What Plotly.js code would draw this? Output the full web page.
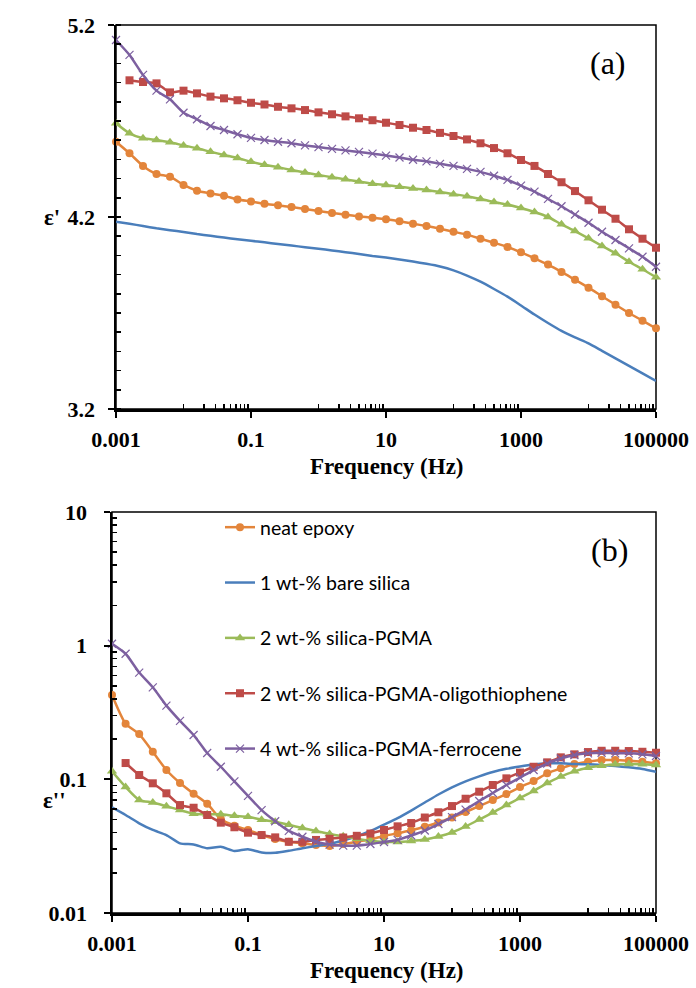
<!DOCTYPE html>
<html>
<head>
<meta charset="utf-8">
<script src="https://cdn.plot.ly/plotly-3.0.1.min.js"></script>
<style>
html,body{margin:0;padding:0;background:#fff;}
#chart{width:696px;height:988px;}
</style>
</head>
<body>
<div id="chart"></div>
<script>
// Frequency (Hz)
const freq = [0.001,0.001585,0.002512,0.003981,0.00631,0.01,0.01585,0.02512,0.03981,0.0631,
  0.1,0.1585,0.2512,0.3981,0.631,1,1.585,2.512,3.981,6.31,
  10,15.85,25.12,39.81,63.1,100,158.5,251.2,398.1,631,
  1000,1585,2512,3981,6310,10000,15850,25120,39810,63100,100000];

const seriesNames = ["neat epoxy","1 wt-% bare silica","2 wt-% silica-PGMA",
  "2 wt-% silica-PGMA-oligothiophene","4 wt-% silica-PGMA-ferrocene"];

// (a) real permittivity ε'
const epsRealNeat = [4.592,4.532,4.466,4.424,4.410,4.367,4.337,4.323,4.311,4.291,
  4.281,4.269,4.261,4.252,4.242,4.231,4.221,4.212,4.203,4.196,
  4.188,4.178,4.165,4.153,4.139,4.123,4.108,4.087,4.066,4.044,
  4.016,3.985,3.952,3.914,3.873,3.832,3.787,3.743,3.700,3.660,3.620];
const epsRealBare = [4.176,4.165,4.153,4.141,4.131,4.122,4.111,4.102,4.093,4.084,
  4.076,4.068,4.059,4.051,4.043,4.035,4.026,4.017,4.007,3.997,
  3.989,3.979,3.968,3.956,3.942,3.922,3.895,3.863,3.825,3.785,
  3.739,3.692,3.648,3.607,3.573,3.542,3.503,3.464,3.425,3.386,3.346];
const epsRealPGMA = [4.688,4.636,4.610,4.601,4.589,4.573,4.558,4.540,4.523,4.507,
  4.488,4.472,4.459,4.445,4.432,4.419,4.407,4.396,4.385,4.373,
  4.367,4.358,4.349,4.341,4.330,4.319,4.308,4.294,4.278,4.265,
  4.247,4.226,4.200,4.162,4.127,4.089,4.049,4.011,3.967,3.928,3.886];
const epsRealOligo = [null,4.912,4.903,4.896,4.849,4.858,4.844,4.827,4.818,4.808,
  4.795,4.786,4.774,4.766,4.757,4.745,4.735,4.724,4.714,4.704,
  4.691,4.679,4.665,4.653,4.638,4.622,4.604,4.584,4.559,4.532,
  4.497,4.466,4.424,4.381,4.335,4.287,4.238,4.191,4.136,4.087,4.040];
const epsRealFerro = [5.122,5.044,4.940,4.858,4.813,4.743,4.709,4.674,4.653,4.631,
  4.612,4.601,4.592,4.584,4.573,4.564,4.555,4.547,4.539,4.530,
  4.520,4.510,4.498,4.490,4.477,4.466,4.451,4.435,4.415,4.393,
  4.363,4.332,4.294,4.256,4.213,4.170,4.123,4.080,4.037,3.993,3.941];

// (b) dielectric loss ε''
const epsLossNeat = [0.427,0.2605,0.2182,0.1608,0.1174,0.0938,0.0780,0.0657,0.0505,0.0450,
  0.0418,0.0383,0.0358,0.0341,0.0332,0.0323,0.0317,0.0328,0.0341,0.0356,
  0.0377,0.0395,0.0416,0.0442,0.0475,0.0518,0.0569,0.0631,0.0700,0.0776,
  0.0876,0.0971,0.1109,0.1208,0.1301,0.1354,0.1395,0.1395,0.1378,0.1354,0.1317];
const epsLossBare = [0.0617,0.0541,0.0469,0.0418,0.0383,0.0332,0.0326,0.0305,0.0313,0.0291,
  0.0300,0.0284,0.0282,0.0292,0.0305,0.0317,0.0329,0.0349,0.0375,0.0411,
  0.0459,0.0513,0.0584,0.0671,0.0770,0.0871,0.0966,0.1053,0.1134,0.1198,
  0.1247,0.1290,0.1317,0.1317,0.1301,0.1295,0.1279,0.1258,0.1230,0.1194,0.1140];
const epsLossPGMA = [0.1147,0.0876,0.0700,0.0671,0.0629,0.0589,0.0553,0.0547,0.0547,0.0533,
  0.0525,0.0499,0.0482,0.0457,0.0432,0.0411,0.0390,0.0375,0.0359,0.0347,
  0.0340,0.0340,0.0346,0.0355,0.0373,0.0400,0.0444,0.0500,0.0564,0.0642,
  0.0725,0.0818,0.0938,0.1049,0.1147,0.1221,0.1264,0.1295,0.1301,0.1295,0.1279];
const epsLossOligo = [null,0.1324,0.1077,0.0934,0.0786,0.0642,0.0613,0.0541,0.0474,0.0438,
  0.0399,0.0383,0.0368,0.0341,0.0341,0.0352,0.0359,0.0367,0.0378,0.0393,
  0.0418,0.0445,0.0471,0.0518,0.0567,0.0631,0.0716,0.0808,0.0907,0.1017,
  0.1124,0.1242,0.1340,0.1461,0.1538,0.1600,0.1636,0.1636,0.1628,0.1608,0.1581];
const epsLossFerro = [1.033,0.870,0.629,0.488,0.356,0.274,0.2145,0.1573,0.1242,0.0966,
  0.0752,0.0589,0.0486,0.0411,0.0372,0.0341,0.0325,0.0319,0.0319,0.0328,
  0.0340,0.0352,0.0380,0.0414,0.0463,0.0522,0.0594,0.0688,0.0790,0.0907,
  0.1031,0.1174,0.1313,0.1431,0.1520,0.1565,0.1581,0.1565,0.1565,0.1538,0.1494];

const xTickVals = [0.001,0.1,10,1000,100000];
const xTickText = ["0.001","0.1","10","1000","100000"];
const yTopTickVals = [3.2,4.2,5.2];
const yTopTickText = ["3.2","4.2","5.2"];
const yBotTickVals = [0.01,0.1,1,10];
const yBotTickText = ["0.01","0.1","1","10"];

// styles
const colors = ["#E3853B","#4A7EBB","#9BBB59","#BE4B48","#7D60A0"];
const styles = [
  {mode:"lines+markers", marker:{symbol:"circle", size:8}},
  {mode:"lines"},
  {mode:"lines+markers", marker:{symbol:"triangle-up", size:9}},
  {mode:"lines+markers", marker:{symbol:"square", size:8}},
  {mode:"lines+markers", marker:{symbol:"x-thin", size:8}}
];

const topData = [epsRealNeat, epsRealBare, epsRealPGMA, epsRealOligo, epsRealFerro];
const botData = [epsLossNeat, epsLossBare, epsLossPGMA, epsLossOligo, epsLossFerro];

function mk(i, y, xa, ya, showleg){
  const s = styles[i];
  const t = {
    x: freq, y: y, xaxis: xa, yaxis: ya, type: "scatter", mode: s.mode,
    name: seriesNames[i], showlegend: showleg, legendgroup: "g"+i,
    line: {color: colors[i], width: 2.5, shape: "spline", smoothing: 0.6},
    cliponaxis: false, connectgaps: false
  };
  if (s.marker) {
    t.marker = {symbol: s.marker.symbol, size: s.marker.size, color: colors[i],
      line: {color: colors[i], width: s.marker.symbol === "x-thin" ? 1.2 : 0}};
  }
  return t;
}

const traces = [];
for (let i = 0; i < 5; i++) traces.push(mk(i, topData[i], "x", "y", false));
for (let i = 0; i < 5; i++) traces.push(mk(i, botData[i], "x2", "y2", true));

// minor tick positions
const minorX = [];
[-2,0,2,4].forEach(d => { for (let m = 1; m <= 9; m++) minorX.push(+(m*Math.pow(10,d)).toPrecision(3)); });
const minorYLog = [];
[-2,-1,0].forEach(d => { for (let m = 2; m <= 9; m++) minorYLog.push(+(m*Math.pow(10,d)).toPrecision(3)); });

const serif = "Liberation Serif, Times New Roman, serif";
const tickFont = {family: serif, size: 22, color: "#000", weight: "bold"};

function xAxis(dom, anchor){
  return {
    type: "log", range: [-3, 5], domain: dom, anchor: anchor,
    tickmode: "array", tickvals: xTickVals, ticktext: xTickText,
    ticks: "outside", ticklen: 6, tickwidth: 2, tickcolor: "#000",
    showline: true, linewidth: 2.5, linecolor: "#000",
    showgrid: false, zeroline: false, tickfont: tickFont, ticklabelstandoff: 3,
    minor: {tickmode: "array", tickvals: minorX, ticks: "inside", ticklen: 5, tickwidth: 1.5, tickcolor: "#000", showgrid: false},
    fixedrange: true
  };
}

const layout = {
  width: 696, height: 988,
  margin: {l:0, r:0, t:0, b:0},
  paper_bgcolor: "#fff", plot_bgcolor: "#fff",
  showlegend: true,
  xaxis: xAxis([116/696, 656/696], "y"),
  yaxis: {
    range: [3.2, 5.2], domain: [1-409/988, 1-25/988], anchor: "x",
    tickmode: "array", tickvals: yTopTickVals, ticktext: yTopTickText,
    ticks: "outside", ticklen: 6, tickwidth: 2, tickcolor: "#000",
    showline: true, linewidth: 2.5, linecolor: "#000",
    showgrid: false, zeroline: false, tickfont: tickFont, ticklabelstandoff: 8,
    minor: {dtick: 0.1, tick0: 3.2, ticks: "inside", ticklen: 5, tickwidth: 1.5, tickcolor: "#000", showgrid: false},
    fixedrange: true
  },
  xaxis2: xAxis([112/696, 656/696], "y2"),
  yaxis2: {
    type: "log", range: [-2, 1], domain: [1-913/988, 1-512/988], anchor: "x2",
    tickmode: "array", tickvals: yBotTickVals, ticktext: yBotTickText,
    ticks: "outside", ticklen: 6, tickwidth: 2, tickcolor: "#000",
    showline: true, linewidth: 2.5, linecolor: "#000",
    showgrid: false, zeroline: false, tickfont: tickFont, ticklabelstandoff: 12,
    minor: {tickmode: "array", tickvals: minorYLog, ticks: "inside", ticklen: 5, tickwidth: 1.5, tickcolor: "#000", showgrid: false},
    fixedrange: true
  },
  legend: {
    x: 220/696, y: 1-508/988, xanchor: "left", yanchor: "top",
    bgcolor: "rgba(0,0,0,0)", borderwidth: 0,
    font: {family: "Lato, Open Sans, sans-serif", size: 19.5, color: "#000"},
    traceorder: "grouped", tracegroupgap: 27, itemwidth: 30
  },
  shapes: [
    {type:"rect", xref:"x domain", yref:"y domain", x0:0, x1:1, y0:0, y1:1, line:{color:"#000", width:1.5}, layer:"below"},
    {type:"rect", xref:"x2 domain", yref:"y2 domain", x0:0, x1:1, y0:0, y1:1, line:{color:"#000", width:1.5}, layer:"below"}
  ],
  annotations: [
    {text:"(a)", xref:"paper", yref:"paper", x:608/696, y:1-63/988, showarrow:false, xanchor:"center", yanchor:"middle", font:{family:serif, size:32, color:"#000"}},
    {text:"(b)", xref:"paper", yref:"paper", x:609/696, y:1-550/988, showarrow:false, xanchor:"center", yanchor:"middle", font:{family:serif, size:32, color:"#000"}},
    {text:"Frequency (Hz)", xref:"paper", yref:"paper", x:387/696, y:1-466/988, showarrow:false, xanchor:"center", yanchor:"middle", font:{family:serif, size:23, color:"#000", weight:"bold"}},
    {text:"Frequency (Hz)", xref:"paper", yref:"paper", x:387/696, y:1-970/988, showarrow:false, xanchor:"center", yanchor:"middle", font:{family:serif, size:23, color:"#000", weight:"bold"}},
    {text:"ε'", xref:"paper", yref:"paper", x:52/696, y:1-217/988, showarrow:false, xanchor:"center", yanchor:"middle", font:{family:serif, size:23, color:"#000", weight:"bold"}},
    {text:"ε''", xref:"paper", yref:"paper", x:54/696, y:1-800/988, showarrow:false, xanchor:"center", yanchor:"middle", font:{family:serif, size:23, color:"#000", weight:"bold"}}
  ]
};

Plotly.newPlot("chart", traces, layout, {displayModeBar:false, staticPlot:true});
</script>
</body>
</html>
